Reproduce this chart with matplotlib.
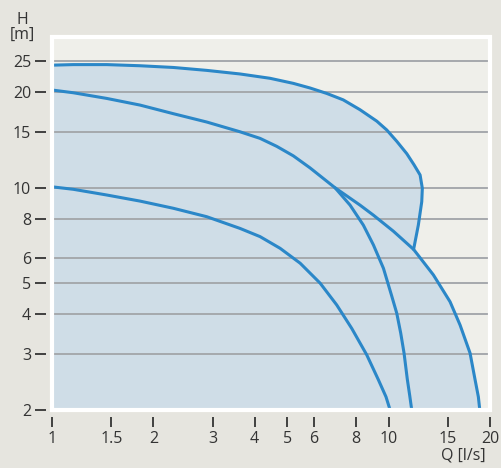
import numpy as np
import matplotlib.pyplot as plt
from matplotlib.ticker import NullLocator, FixedLocator, FixedFormatter
from matplotlib.patches import Rectangle

plt.rcParams['font.family'] = ['Open Sans', 'DejaVu Sans']

# top curve (envelope), down the knee to where it meets the wide branch
qa = [1.0, 1.157, 1.454, 1.826, 2.293, 2.881, 3.618, 4.44, 5.21, 5.84, 6.55, 7.33,
      8.22, 9.22, 9.87, 10.57, 11.32, 11.9, 12.4, 12.59, 12.54, 12.25, 11.86]
ha = [24.3, 24.4, 24.4, 24.2, 23.9, 23.4, 22.8, 22.1, 21.3, 20.6, 19.8, 18.9,
      17.6, 16.2, 15.2, 14.0, 12.8, 11.8, 10.97, 9.96, 9.04, 7.63, 6.4]

# 20 m curve, continuing into the wide branch
qb = [1.0, 1.157, 1.454, 1.826, 2.293, 2.881, 3.618, 4.15, 4.65, 5.21, 5.84,
      6.93, 8.22, 9.01, 10.33, 11.86, 13.58, 15.22, 16.3, 17.45, 18.06, 18.47, 18.65]
hb = [20.3, 19.9, 19.1, 18.2, 17.1, 16.1, 15.0, 14.3, 13.5, 12.6, 11.55,
      10.0, 8.82, 8.2, 7.3, 6.4, 5.32, 4.38, 3.7, 3.02, 2.49, 2.2, 2.0]

# steep branch from the crossing
qd = [6.93, 7.68, 8.41, 9.01, 9.65, 10.21, 10.57, 10.86, 11.11, 11.36, 11.55, 11.71]
hd = [10.0, 8.82, 7.63, 6.61, 5.58, 4.57, 4.03, 3.49, 3.02, 2.5, 2.22, 2.0]

# 10 m curve
qe = [1.0, 1.157, 1.454, 1.826, 2.293, 2.881, 3.618, 4.15, 4.76, 5.46, 6.26,
      7.01, 7.77, 8.61, 9.32, 9.82, 10.1]
he = [10.07, 9.89, 9.49, 9.08, 8.62, 8.11, 7.45, 7.02, 6.45, 5.79, 5.01,
      4.28, 3.61, 2.98, 2.49, 2.2, 2.0]

xticks = [1, 1.5, 2, 3, 4, 5, 6, 8, 10, 15, 20]
xlabels = ['1', '1.5', '2', '3', '4', '5', '6', '8', '10', '15', '20']
yticks = [2, 3, 4, 5, 6, 8, 10, 15, 20, 25]
ylabels = ['2', '3', '4', '5', '6', '8', '10', '15', '20', '25']

blue = '#2b87c8'
fig = plt.figure(figsize=(5.01, 4.68), dpi=100, facecolor='#e6e5df')
ax = fig.add_axes([52/501, 58/468, 438/501, 373/468])
ax.set_facecolor('#efefea')
ax.set_xscale('log')
ax.set_yscale('log')
ax.set_xlim(1, 20)
ax.set_ylim(2, 29.8)

# shaded operating area: top curve, then the wide branch below the knee
i = hb.index(6.4)
px = qa + qb[i + 1:] + [1.0]
py = ha + hb[i + 1:] + [2.0]
ax.fill(px, py, color='#cfdde7', lw=0, zorder=1)

for q, h in [(qa, ha), (qb, hb), (qd, hd), (qe, he)]:
    ax.plot(q, h, color=blue, lw=2.2, solid_capstyle='round', solid_joinstyle='round', zorder=3)

ax.xaxis.set_major_locator(FixedLocator(xticks))
ax.xaxis.set_major_formatter(FixedFormatter(xlabels))
ax.yaxis.set_major_locator(FixedLocator(yticks))
ax.yaxis.set_major_formatter(FixedFormatter(ylabels))
ax.xaxis.set_minor_locator(NullLocator())
ax.yaxis.set_minor_locator(NullLocator())

ax.grid(axis='y', color='#a5a9ad', lw=1.4, zorder=1.5)

for s in ['top', 'right']:
    ax.spines[s].set_visible(False)
ax.spines['left'].set_position(('outward', 4))
ax.spines['bottom'].set_position(('outward', 5))
ax.spines['left'].set_visible(False)
ax.spines['bottom'].set_visible(False)

ax.tick_params(axis='y', direction='out', length=8, width=1.3, color='#333333',
               labelsize=11.5, labelcolor='#333333', pad=3)
ax.tick_params(axis='x', direction='out', length=7, width=1.3, color='#333333',
               labelsize=11.5, labelcolor='#333333', pad=3)

ax.add_patch(Rectangle((0, 0), 1, 1, transform=ax.transAxes, fill=False,
                       ec='white', lw=3, clip_on=False, zorder=5))

fig.text(22/501, 1 - 20/468, 'H', ha='center', va='center', fontsize=11.5, color='#333333')
fig.text(22/501, 1 - 35/468, '[m]', ha='center', va='center', fontsize=11.5, color='#333333')
fig.text(463/501, 1 - 456/468, 'Q [l/s]', ha='center', va='center', fontsize=11.5, color='#333333')

fig.savefig('out.png', dpi=100, facecolor=fig.get_facecolor())
